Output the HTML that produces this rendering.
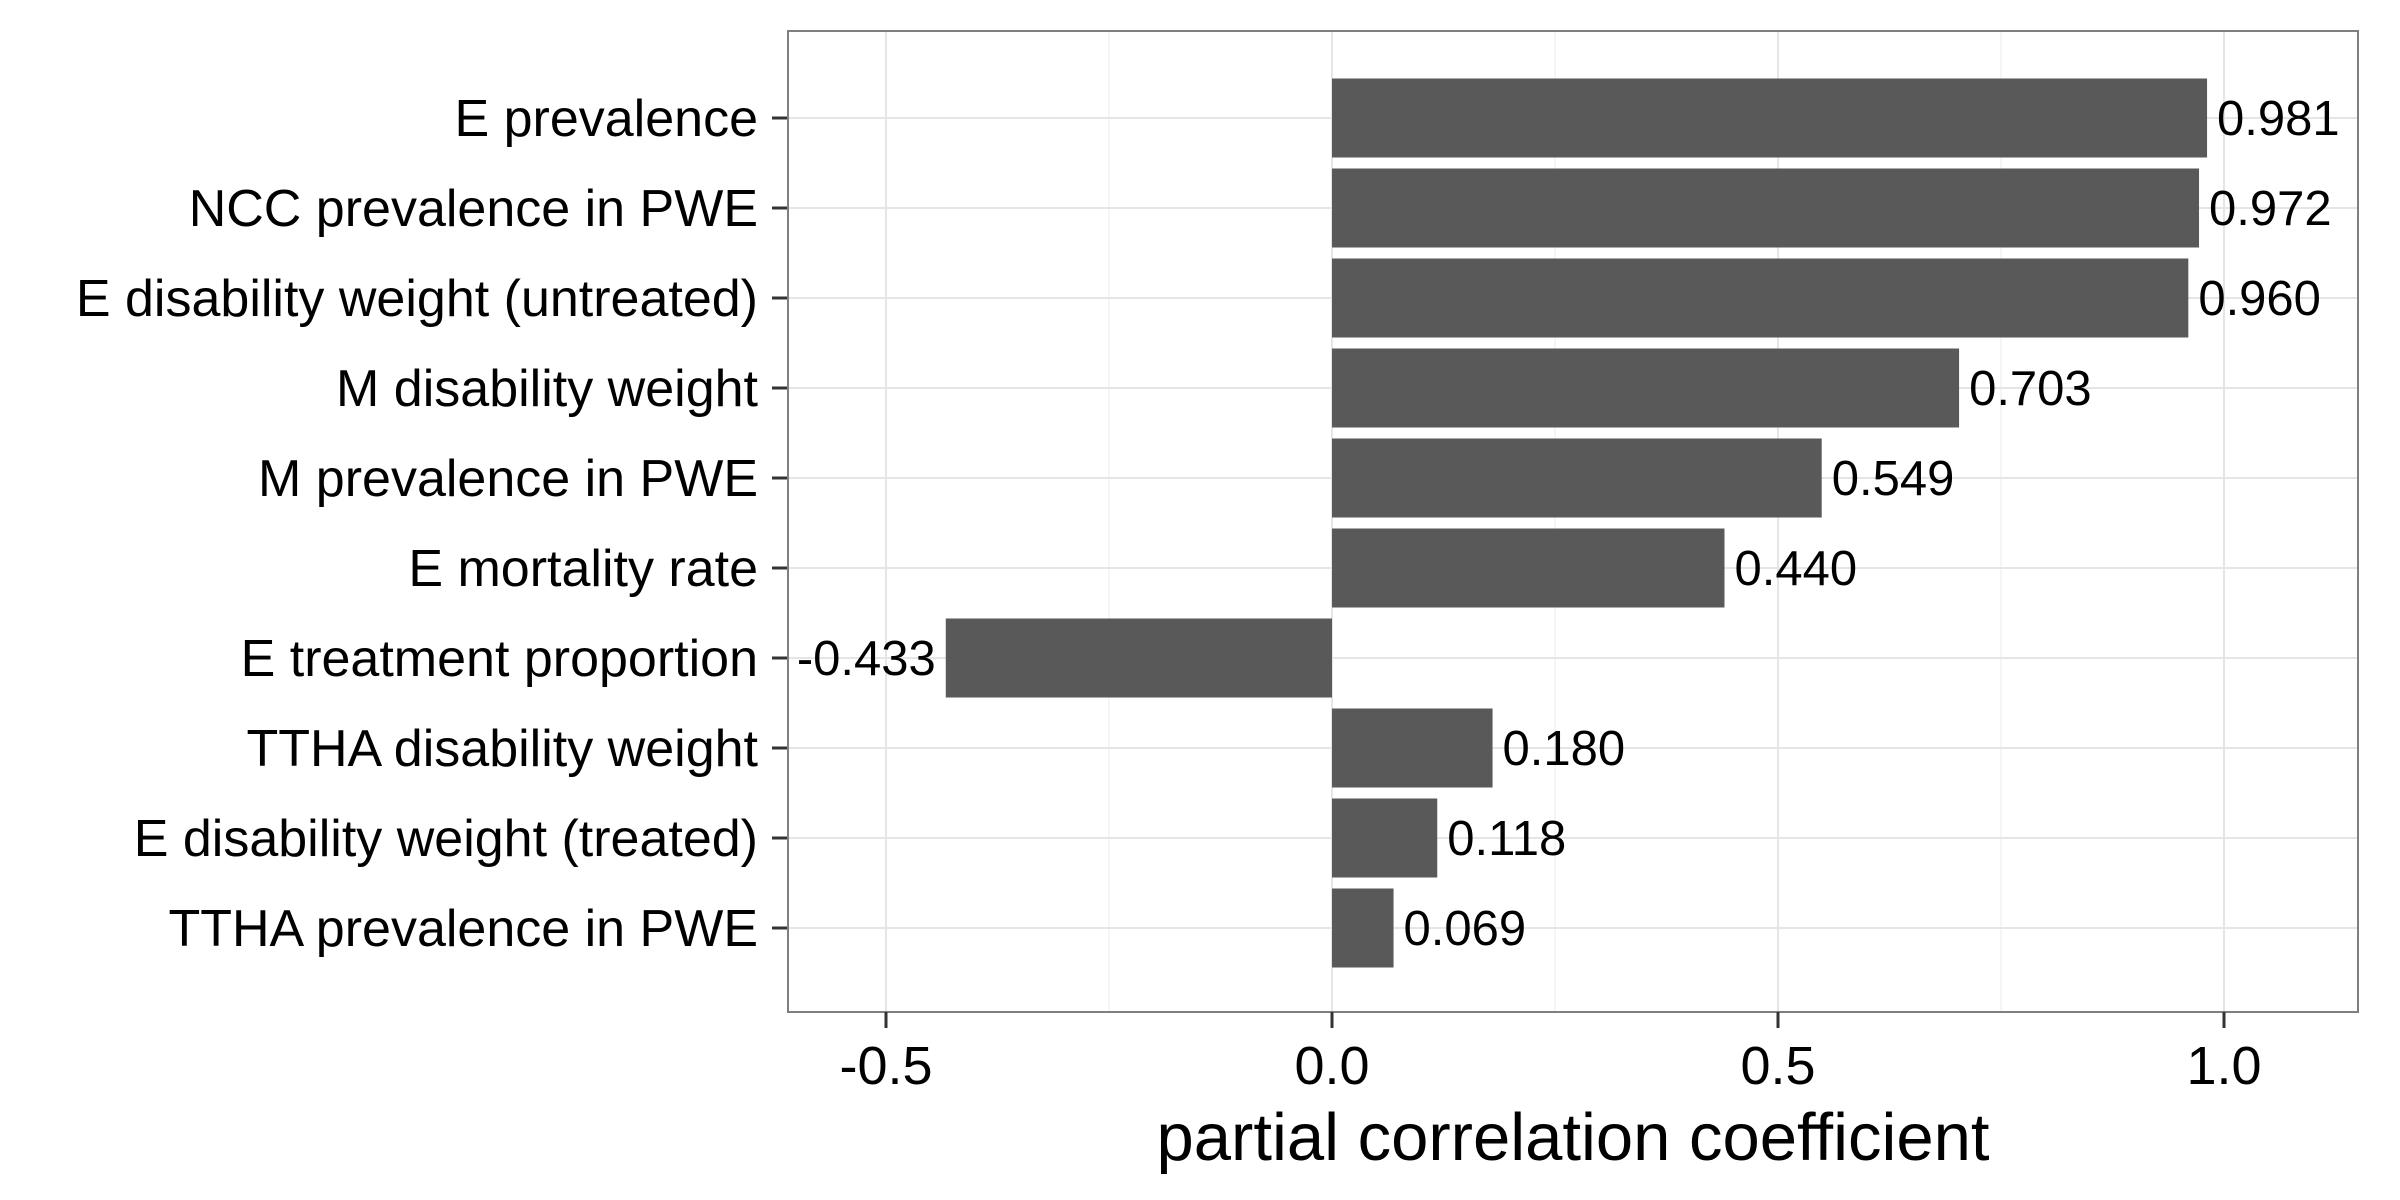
<!DOCTYPE html>
<html><head><meta charset="utf-8"><style>body{margin:0;background:#fff}svg{display:block}text{font-family:"Liberation Sans",sans-serif}</style></head>
<body>
<svg id="c" width="2400" height="1200"></svg>
<script>
const categories=["E prevalence","NCC prevalence in PWE","E disability weight (untreated)","M disability weight","M prevalence in PWE","E mortality rate","E treatment proportion","TTHA disability weight","E disability weight (treated)","TTHA prevalence in PWE"];
const values=[0.981,0.972,0.960,0.703,0.549,0.440,-0.433,0.180,0.118,0.069];
const valueLabels=["0.981","0.972","0.960","0.703","0.549","0.440","-0.433","0.180","0.118","0.069"];
const xTicks=[-0.5,0,0.5,1.0];
const xTickLabels=["-0.5","0.0","0.5","1.0"];
const xMinor=[-0.25,0.25,0.75];
const L=788,R=2358,T=31,B=1012;
const x=v=>1332+v*892;
const y=i=>118+i*90;
const s=document.getElementById('c'),NS='http://www.w3.org/2000/svg';
function add(tag,a,txt){const e=document.createElementNS(NS,tag);for(const k in a)e.setAttribute(k,a[k]);if(txt!==undefined)e.textContent=txt;s.appendChild(e);return e;}
let e=add('rect',{x:L,y:T,width:R-L,height:B-T,fill:'#fff'});


xMinor.forEach(v=>{e=add('line',{x1:x(v),x2:x(v),y1:T,y2:B,stroke:'#f2f2f2','stroke-width':1.5});

});
xTicks.forEach(v=>{e=add('line',{x1:x(v),x2:x(v),y1:T,y2:B,stroke:'#e5e5e5','stroke-width':2});

});
categories.forEach((c,i)=>{e=add('line',{x1:L,x2:R,y1:y(i),y2:y(i),stroke:'#e5e5e5','stroke-width':2});

});
const bh=79;
categories.forEach((c,i)=>{
const v=values[i],x0=x(Math.min(0,v)),w=Math.abs(x(v)-x(0));
e=add('rect',{x:x0,y:y(i)-bh/2,width:w,height:bh,fill:'#595959'});


const t=v>=0?add('text',{x:x(v)+10,y:y(i)+17,'font-size':49,fill:'#000'},valueLabels[i]):add('text',{x:x(v)-10,y:y(i)+17,'font-size':49,fill:'#000','text-anchor':'end'},valueLabels[i]);


e=add('text',{x:758,y:y(i)+18,'font-size':52,'text-anchor':'end',fill:'#000'},c);


e=add('line',{x1:772,x2:L,y1:y(i),y2:y(i),stroke:'#333','stroke-width':3});


});
e=add('rect',{x:L,y:T,width:R-L,height:B-T,fill:'none',stroke:'#7f7f7f','stroke-width':2});


xTicks.forEach((v,i)=>{
e=add('line',{x1:x(v),x2:x(v),y1:B,y2:B+16,stroke:'#333','stroke-width':3});


e=add('text',{x:x(v),y:1084,'font-size':54,'text-anchor':'middle',fill:'#000'},xTickLabels[i]);


});
e=add('text',{x:(L+R)/2,y:1160,'font-size':67,'text-anchor':'middle',fill:'#000'},'partial correlation coefficient');


</script>
</body></html>
